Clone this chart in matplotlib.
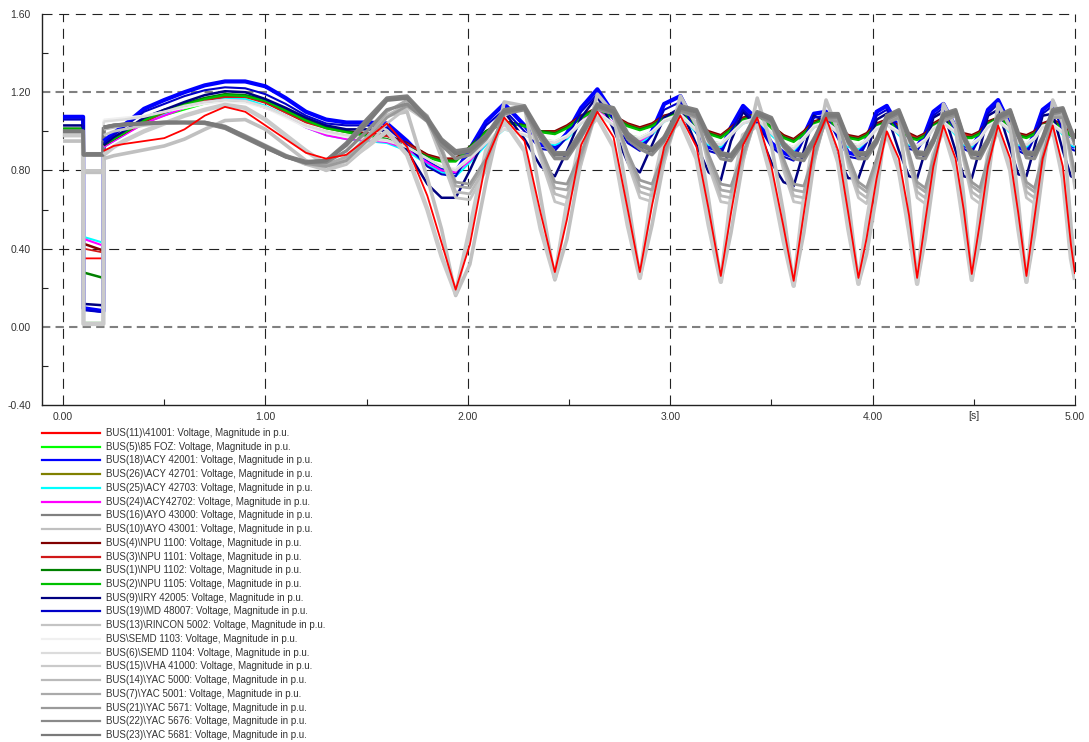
import matplotlib
matplotlib.use('Agg')
import matplotlib.pyplot as plt
from matplotlib.lines import Line2D
from matplotlib.ticker import MultipleLocator

plt.rcParams['font.family'] = ['Liberation Sans', 'DejaVu Sans']

# ---------------------------------------------------------
# Simulation results: bus voltages [p.u.] vs time [s]
# ---------------------------------------------------------
t = [0.00, 0.099, 0.101, 0.199, 0.201, 0.25, 0.30, 0.40, 0.50, 0.60,
     0.70, 0.80, 0.90, 1.00, 1.10, 1.20, 1.30, 1.40, 1.50, 1.60,
     1.70, 1.80, 1.87,
     1.94, 2.01, 2.09, 2.18, 2.28, 2.36,
     2.43, 2.49, 2.56, 2.64, 2.72, 2.79,
     2.85, 2.91, 2.97, 3.05, 3.13, 3.19,
     3.25, 3.30, 3.36, 3.43, 3.50, 3.56,
     3.61, 3.66, 3.71, 3.77, 3.83, 3.88,
     3.93, 3.97, 4.02, 4.07, 4.13, 4.18,
     4.22, 4.26, 4.30, 4.35, 4.41, 4.45,
     4.49, 4.53, 4.57, 4.62, 4.68, 4.72,
     4.76, 4.80, 4.84, 4.89, 4.94, 4.98, 5.00]

v_41001 = [1.00, 1.00, 0.35, 0.35, 0.90, 0.925, 0.935, 0.95, 0.965, 1.01,
           1.08, 1.125, 1.10, 1.03, 0.96, 0.89, 0.86, 0.88, 0.96, 1.04,
           0.92, 0.67, 0.43,
           0.19, 0.42, 0.85, 1.07, 0.95, 0.58,
           0.28, 0.55, 0.93, 1.10, 0.97, 0.60,
           0.28, 0.62, 0.92, 1.08, 0.92, 0.60,
           0.26, 0.58, 0.93, 1.07, 0.82, 0.51,
           0.235, 0.58, 0.92, 1.07, 0.90, 0.58,
           0.25, 0.45, 0.76, 1.00, 0.86, 0.57,
           0.25, 0.54, 0.82, 1.03, 0.86, 0.60,
           0.27, 0.53, 0.82, 1.03, 0.86, 0.58,
           0.26, 0.56, 0.86, 1.03, 0.82, 0.42, 0.27]

v_85foz = [1.01, 1.01, 0.02, 0.015, 0.92, 0.95, 0.98, 1.04, 1.08, 1.11,
           1.14, 1.155, 1.15, 1.12, 1.08, 1.03, 1.00, 0.98, 0.97, 0.95,
           0.91, 0.85, 0.81,
           0.80, 0.87, 0.95, 1.02, 0.99, 0.96,
           0.95, 0.98, 1.05, 1.10, 1.04, 0.98,
           0.97, 1.00, 1.06, 1.09, 1.01, 0.95,
           0.94, 0.99, 1.05, 1.07, 1.00, 0.94,
           0.92, 0.97, 1.03, 1.05, 1.00, 0.94,
           0.93, 0.96, 1.02, 1.04, 1.00, 0.95,
           0.93, 0.96, 1.02, 1.05, 1.00, 0.95,
           0.94, 0.97, 1.03, 1.06, 1.01, 0.95,
           0.94, 0.97, 1.03, 1.04, 1.00, 0.95, 0.94]

v_42001 = [1.074, 1.074, 0.095, 0.08, 0.95, 0.99, 1.03, 1.115, 1.16, 1.20,
           1.235, 1.255, 1.255, 1.23, 1.17, 1.10, 1.06, 1.045, 1.045, 1.04,
           0.95, 0.84, 0.80,
           0.79, 0.91, 1.05, 1.14, 1.03, 0.93,
           0.92, 0.99, 1.12, 1.215, 1.09, 0.96,
           0.92, 1.00, 1.14, 1.18, 1.02, 0.92,
           0.90, 1.02, 1.13, 1.06, 0.94, 0.89,
           0.87, 0.98, 1.09, 1.10, 0.98, 0.89,
           0.88, 0.96, 1.10, 1.13, 1.02, 0.93,
           0.92, 0.99, 1.10, 1.14, 1.02, 0.93,
           0.91, 0.99, 1.11, 1.16, 1.03, 0.92,
           0.90, 0.99, 1.11, 1.15, 1.02, 0.93, 0.92]

v_42701 = [0.99, 0.99, 0.012, 0.01, 0.93, 0.96, 0.99, 1.06, 1.10, 1.14,
           1.17, 1.185, 1.18, 1.15, 1.11, 1.06, 1.03, 1.00, 0.99, 0.98,
           0.94, 0.88, 0.85,
           0.86, 0.92, 0.99, 1.05, 1.03, 1.00,
           0.99, 1.02, 1.07, 1.12, 1.07, 1.03,
           1.01, 1.03, 1.07, 1.10, 1.04, 0.99,
           0.97, 1.01, 1.06, 1.09, 1.03, 0.98,
           0.95, 0.99, 1.04, 1.07, 1.03, 0.97,
           0.96, 0.98, 1.03, 1.05, 1.03, 0.98,
           0.96, 0.98, 1.03, 1.06, 1.03, 0.98,
           0.97, 0.99, 1.04, 1.07, 1.03, 0.98,
           0.97, 0.99, 1.03, 1.05, 1.02, 0.98, 0.97]

v_42703 = [1.00, 1.00, 0.46, 0.43, 0.92, 0.95, 0.98, 1.05, 1.09, 1.13,
           1.16, 1.17, 1.165, 1.13, 1.08, 1.02, 0.98, 0.96, 0.95, 0.94,
           0.90, 0.83, 0.79,
           0.77, 0.84, 0.93, 1.01, 0.98, 0.95,
           0.93, 0.96, 1.04, 1.10, 1.03, 0.96,
           0.94, 0.98, 1.05, 1.08, 0.99, 0.93,
           0.92, 0.98, 1.04, 1.06, 0.98, 0.92,
           0.90, 0.96, 1.02, 1.05, 0.98, 0.92,
           0.91, 0.95, 1.02, 1.05, 0.98, 0.93,
           0.92, 0.95, 1.02, 1.05, 0.98, 0.93,
           0.92, 0.96, 1.03, 1.06, 0.99, 0.93,
           0.92, 0.96, 1.03, 1.05, 0.98, 0.93, 0.92]

v_42702 = [1.00, 1.00, 0.45, 0.415, 0.92, 0.95, 0.98, 1.04, 1.08, 1.12,
           1.15, 1.16, 1.155, 1.12, 1.08, 1.02, 0.98, 0.96, 0.955, 0.945,
           0.91, 0.84, 0.80,
           0.79, 0.85, 0.94, 1.02, 0.99, 0.96,
           0.94, 0.97, 1.05, 1.11, 1.04, 0.97,
           0.95, 0.99, 1.06, 1.09, 1.00, 0.94,
           0.93, 0.99, 1.05, 1.07, 0.99, 0.93,
           0.91, 0.97, 1.03, 1.06, 0.99, 0.93,
           0.92, 0.96, 1.03, 1.06, 0.99, 0.94,
           0.93, 0.96, 1.03, 1.06, 0.99, 0.94,
           0.93, 0.97, 1.04, 1.07, 1.00, 0.94,
           0.93, 0.97, 1.04, 1.06, 0.99, 0.94, 0.93]

v_43000 = [1.00, 1.00, 0.885, 0.885, 1.02, 1.03, 1.035, 1.04, 1.045, 1.045,
           1.045, 1.025, 0.975, 0.925, 0.875, 0.845, 0.85, 0.94, 1.06, 1.17,
           1.18, 1.07, 0.96,
           0.90, 0.91, 0.98, 1.11, 1.13, 0.99,
           0.89, 0.89, 1.00, 1.14, 1.12, 0.99,
           0.94, 0.91, 0.97, 1.13, 1.11, 0.98,
           0.89, 0.88, 0.96, 1.10, 1.07, 0.94,
           0.89, 0.88, 0.96, 1.09, 1.09, 0.96,
           0.89, 0.89, 0.96, 1.08, 1.11, 0.98,
           0.895, 0.89, 0.96, 1.09, 1.11, 0.98,
           0.895, 0.89, 0.96, 1.08, 1.11, 0.99,
           0.895, 0.89, 0.97, 1.11, 1.12, 1.01, 0.96]

v_43001 = [0.95, 0.95, 0.79, 0.79, 0.86, 0.875, 0.885, 0.905, 0.925, 0.96,
           1.01, 1.055, 1.06, 1.01, 0.93, 0.85, 0.80, 0.85, 0.95, 1.08,
           1.10, 0.76, 0.50,
           0.16, 0.32, 0.74, 1.15, 1.13, 0.66,
           0.24, 0.45, 0.85, 1.19, 1.09, 0.66,
           0.25, 0.52, 0.85, 1.18, 1.03, 0.65,
           0.23, 0.48, 0.85, 1.17, 0.93, 0.58,
           0.21, 0.48, 0.84, 1.16, 1.00, 0.65,
           0.22, 0.37, 0.68, 1.08, 1.06, 0.65,
           0.22, 0.45, 0.75, 1.14, 1.02, 0.67,
           0.24, 0.44, 0.75, 1.14, 1.02, 0.64,
           0.23, 0.47, 0.79, 1.16, 1.04, 0.52, 0.30]

v_1100 = [1.00, 1.00, 0.425, 0.39, 0.93, 0.96, 0.99, 1.05, 1.10, 1.13,
          1.16, 1.18, 1.18, 1.15, 1.10, 1.05, 1.02, 1.00, 0.99, 0.98,
          0.94, 0.88, 0.86,
          0.86, 0.92, 1.00, 1.05, 1.03, 1.00,
          1.00, 1.03, 1.08, 1.12, 1.08, 1.04,
          1.02, 1.04, 1.08, 1.10, 1.04, 1.00,
          0.98, 1.02, 1.07, 1.09, 1.03, 0.98,
          0.96, 1.00, 1.05, 1.07, 1.03, 0.98,
          0.97, 0.99, 1.04, 1.06, 1.03, 0.99,
          0.97, 0.99, 1.04, 1.07, 1.03, 0.99,
          0.98, 1.00, 1.05, 1.07, 1.04, 0.99,
          0.98, 1.00, 1.04, 1.06, 1.03, 0.99, 0.98]

v_1101 = [1.00, 1.00, 0.40, 0.38, 0.93, 0.96, 0.99, 1.05, 1.095, 1.13,
          1.16, 1.175, 1.175, 1.145, 1.095, 1.045, 1.015, 0.995, 0.985, 0.975,
          0.935, 0.875, 0.855,
          0.855, 0.915, 0.995, 1.045, 1.025, 0.995,
          0.995, 1.025, 1.075, 1.115, 1.075, 1.035,
          1.015, 1.035, 1.075, 1.095, 1.035, 0.995,
          0.975, 1.015, 1.065, 1.085, 1.025, 0.975,
          0.955, 0.995, 1.045, 1.065, 1.025, 0.975,
          0.965, 0.985, 1.035, 1.055, 1.025, 0.985,
          0.965, 0.985, 1.035, 1.065, 1.025, 0.985,
          0.975, 0.995, 1.045, 1.065, 1.035, 0.985,
          0.975, 0.995, 1.035, 1.055, 1.025, 0.985, 0.975]

v_1102 = [1.014, 1.014, 0.278, 0.25, 0.93, 0.96, 0.99, 1.06, 1.11, 1.14,
          1.17, 1.19, 1.185, 1.16, 1.11, 1.06, 1.02, 1.00, 0.98, 0.96,
          0.92, 0.87, 0.85,
          0.85, 0.92, 1.00, 1.05, 1.03, 1.00,
          0.99, 1.02, 1.07, 1.12, 1.07, 1.03,
          1.01, 1.03, 1.07, 1.10, 1.03, 0.99,
          0.97, 1.01, 1.06, 1.09, 1.02, 0.97,
          0.95, 0.99, 1.04, 1.07, 1.02, 0.97,
          0.96, 0.98, 1.03, 1.05, 1.02, 0.97,
          0.96, 0.98, 1.03, 1.06, 1.02, 0.97,
          0.97, 0.99, 1.04, 1.07, 1.03, 0.98,
          0.97, 0.99, 1.03, 1.05, 1.02, 0.98, 0.97]

v_1105 = [1.01, 1.01, 0.02, 0.02, 0.93, 0.96, 0.99, 1.055, 1.10, 1.135,
          1.165, 1.185, 1.18, 1.155, 1.105, 1.055, 1.015, 0.995, 0.975, 0.955,
          0.915, 0.865, 0.845,
          0.845, 0.915, 0.995, 1.045, 1.025, 0.995,
          0.985, 1.015, 1.065, 1.115, 1.065, 1.025,
          1.005, 1.025, 1.065, 1.095, 1.025, 0.985,
          0.965, 1.005, 1.055, 1.085, 1.015, 0.965,
          0.945, 0.985, 1.035, 1.065, 1.015, 0.965,
          0.955, 0.975, 1.025, 1.045, 1.015, 0.965,
          0.955, 0.975, 1.025, 1.055, 1.015, 0.965,
          0.965, 0.985, 1.035, 1.065, 1.025, 0.975,
          0.965, 0.985, 1.025, 1.045, 1.015, 0.975, 0.965]

v_42005 = [1.03, 1.03, 0.117, 0.11, 0.93, 0.97, 1.00, 1.07, 1.11, 1.15,
           1.185, 1.205, 1.20, 1.165, 1.12, 1.07, 1.03, 1.01, 1.01, 1.00,
           0.90, 0.73, 0.66,
           0.66, 0.80, 0.98, 1.10, 0.96, 0.82,
           0.77, 0.90, 1.07, 1.18, 1.01, 0.84,
           0.79, 0.93, 1.07, 1.12, 0.93, 0.79,
           0.75, 0.95, 1.10, 1.02, 0.84, 0.74,
           0.72, 0.90, 1.08, 1.05, 0.86, 0.76,
           0.76, 0.88, 1.06, 1.09, 0.90, 0.77,
           0.76, 0.90, 1.07, 1.10, 0.90, 0.77,
           0.76, 0.91, 1.08, 1.11, 0.91, 0.78,
           0.77, 0.92, 1.08, 1.09, 0.90, 0.77, 0.76]

v_48007 = [1.06, 1.06, 0.085, 0.075, 0.94, 0.98, 1.02, 1.10, 1.14, 1.18,
           1.21, 1.225, 1.22, 1.19, 1.14, 1.08, 1.04, 1.03, 1.03, 1.02,
           0.93, 0.82, 0.78,
           0.77, 0.89, 1.03, 1.11, 1.00, 0.91,
           0.90, 0.97, 1.10, 1.19, 1.06, 0.94,
           0.90, 0.98, 1.11, 1.15, 0.99, 0.90,
           0.88, 1.00, 1.11, 1.04, 0.92, 0.87,
           0.85, 0.96, 1.07, 1.08, 0.96, 0.87,
           0.86, 0.94, 1.08, 1.11, 1.00, 0.91,
           0.90, 0.97, 1.08, 1.12, 1.00, 0.91,
           0.89, 0.97, 1.09, 1.14, 1.01, 0.90,
           0.88, 0.97, 1.09, 1.13, 1.00, 0.91, 0.90]

v_5002 = [0.99, 0.99, 0.80, 0.80, 0.98, 1.00, 1.01, 1.03, 1.04, 1.045,
          1.04, 1.02, 0.98, 0.93, 0.88, 0.83, 0.80, 0.83, 0.92, 1.04,
          1.12, 1.05, 0.86,
          0.66, 0.65, 0.80, 1.08, 1.13, 0.86,
          0.64, 0.62, 0.83, 1.12, 1.10, 0.84,
          0.66, 0.64, 0.84, 1.12, 1.08, 0.82,
          0.64, 0.63, 0.85, 1.10, 1.05, 0.80,
          0.64, 0.63, 0.84, 1.08, 1.06, 0.82,
          0.66, 0.63, 0.80, 1.05, 1.08, 0.85,
          0.66, 0.63, 0.80, 1.06, 1.09, 0.85,
          0.66, 0.63, 0.80, 1.06, 1.09, 0.85,
          0.66, 0.63, 0.82, 1.08, 1.08, 0.84, 0.70]

v_1103 = [1.00, 1.00, 0.02, 0.02, 1.06, 1.065, 1.07, 1.08, 1.10, 1.12,
          1.14, 1.15, 1.145, 1.12, 1.07, 1.02, 0.99, 0.97, 0.96, 0.95,
          0.92, 0.86, 0.82,
          0.81, 0.87, 0.95, 1.02, 0.99, 0.96,
          0.95, 0.98, 1.05, 1.10, 1.04, 0.98,
          0.97, 1.00, 1.06, 1.09, 1.01, 0.95,
          0.94, 0.99, 1.05, 1.07, 1.00, 0.94,
          0.92, 0.97, 1.03, 1.05, 1.00, 0.94,
          0.93, 0.96, 1.02, 1.04, 1.00, 0.95,
          0.93, 0.96, 1.02, 1.05, 1.00, 0.95,
          0.94, 0.97, 1.03, 1.06, 1.01, 0.95,
          0.94, 0.97, 1.03, 1.04, 1.00, 0.95, 0.94]

v_1104 = [1.00, 1.00, 0.015, 0.015, 1.05, 1.055, 1.06, 1.075, 1.10, 1.13,
          1.15, 1.16, 1.155, 1.125, 1.08, 1.03, 1.00, 0.98, 0.965, 0.955,
          0.92, 0.86, 0.82,
          0.80, 0.86, 0.94, 1.01, 0.98, 0.95,
          0.94, 0.97, 1.04, 1.09, 1.03, 0.97,
          0.96, 0.99, 1.05, 1.08, 1.00, 0.94,
          0.93, 0.98, 1.04, 1.06, 0.99, 0.93,
          0.91, 0.96, 1.02, 1.04, 0.99, 0.93,
          0.92, 0.95, 1.01, 1.03, 0.99, 0.94,
          0.92, 0.95, 1.01, 1.04, 0.99, 0.94,
          0.93, 0.96, 1.02, 1.05, 1.00, 0.94,
          0.93, 0.96, 1.02, 1.03, 0.99, 0.94, 0.93]

v_41000 = [0.98, 0.98, 0.015, 0.015, 0.88, 0.92, 0.95, 1.00, 1.04, 1.08,
           1.11, 1.135, 1.12, 1.06, 0.98, 0.90, 0.83, 0.85, 0.92, 1.00,
           0.88, 0.60, 0.36,
           0.17, 0.50, 0.90, 1.05, 0.90, 0.50,
           0.25, 0.63, 0.98, 1.07, 0.92, 0.52,
           0.25, 0.69, 0.97, 1.05, 0.86, 0.52,
           0.23, 0.66, 0.98, 1.03, 0.76, 0.44,
           0.21, 0.65, 0.96, 1.04, 0.84, 0.50,
           0.22, 0.53, 0.83, 0.99, 0.80, 0.49,
           0.22, 0.61, 0.88, 1.01, 0.80, 0.52,
           0.24, 0.60, 0.88, 1.01, 0.80, 0.50,
           0.23, 0.63, 0.91, 1.01, 0.76, 0.35, 0.24]

v_5000 = [1.00, 1.00, 0.88, 0.88, 1.01, 1.02, 1.03, 1.04, 1.045, 1.045,
          1.04, 1.015, 0.97, 0.92, 0.87, 0.83, 0.82, 0.86, 0.96, 1.08,
          1.14, 1.07, 0.90,
          0.69, 0.68, 0.82, 1.09, 1.13, 0.88,
          0.68, 0.66, 0.85, 1.12, 1.10, 0.86,
          0.69, 0.67, 0.86, 1.11, 1.08, 0.84,
          0.67, 0.66, 0.86, 1.09, 1.05, 0.82,
          0.67, 0.66, 0.85, 1.07, 1.06, 0.84,
          0.69, 0.66, 0.82, 1.05, 1.08, 0.86,
          0.69, 0.66, 0.82, 1.06, 1.09, 0.86,
          0.69, 0.66, 0.82, 1.06, 1.09, 0.86,
          0.69, 0.66, 0.84, 1.08, 1.08, 0.86, 0.74]

v_5001 = [1.00, 1.00, 0.88, 0.88, 1.02, 1.03, 1.035, 1.04, 1.045, 1.045,
          1.045, 1.02, 0.975, 0.925, 0.875, 0.84, 0.83, 0.87, 0.97, 1.10,
          1.16, 1.08, 0.92,
          0.72, 0.71, 0.84, 1.10, 1.13, 0.90,
          0.71, 0.70, 0.87, 1.12, 1.10, 0.88,
          0.72, 0.70, 0.87, 1.11, 1.08, 0.86,
          0.70, 0.69, 0.87, 1.09, 1.05, 0.84,
          0.70, 0.69, 0.86, 1.07, 1.06, 0.85,
          0.72, 0.69, 0.84, 1.05, 1.08, 0.87,
          0.72, 0.69, 0.84, 1.06, 1.09, 0.87,
          0.72, 0.69, 0.84, 1.06, 1.09, 0.87,
          0.72, 0.69, 0.85, 1.08, 1.08, 0.87, 0.76]

v_5671 = [1.00, 1.00, 0.88, 0.88, 1.02, 1.03, 1.035, 1.04, 1.045, 1.045,
          1.045, 1.02, 0.97, 0.92, 0.87, 0.835, 0.82, 0.85, 0.95, 1.07,
          1.13, 1.06, 0.90,
          0.74, 0.73, 0.86, 1.09, 1.12, 0.91,
          0.74, 0.73, 0.89, 1.11, 1.09, 0.89,
          0.75, 0.73, 0.89, 1.10, 1.07, 0.88,
          0.73, 0.72, 0.89, 1.08, 1.04, 0.86,
          0.73, 0.72, 0.88, 1.06, 1.05, 0.87,
          0.74, 0.71, 0.86, 1.04, 1.07, 0.89,
          0.74, 0.71, 0.86, 1.05, 1.08, 0.89,
          0.74, 0.71, 0.86, 1.05, 1.08, 0.89,
          0.74, 0.71, 0.87, 1.07, 1.07, 0.89, 0.78]

v_5676 = [1.00, 1.00, 0.88, 0.88, 1.02, 1.03, 1.035, 1.04, 1.045, 1.045,
          1.04, 1.015, 0.965, 0.915, 0.87, 0.84, 0.84, 0.90, 1.00, 1.11,
          1.14, 1.05, 0.93,
          0.86, 0.88, 0.96, 1.09, 1.11, 0.96,
          0.86, 0.86, 0.97, 1.12, 1.09, 0.96,
          0.91, 0.88, 0.95, 1.11, 1.08, 0.95,
          0.86, 0.85, 0.94, 1.08, 1.05, 0.92,
          0.86, 0.85, 0.94, 1.07, 1.07, 0.94,
          0.86, 0.86, 0.94, 1.06, 1.09, 0.96,
          0.865, 0.86, 0.94, 1.07, 1.09, 0.96,
          0.865, 0.86, 0.94, 1.06, 1.09, 0.97,
          0.865, 0.86, 0.95, 1.09, 1.10, 0.99, 0.93]

v_5681 = [1.00, 1.00, 0.88, 0.88, 1.02, 1.03, 1.035, 1.04, 1.045, 1.045,
          1.045, 1.02, 0.97, 0.92, 0.87, 0.84, 0.85, 0.93, 1.04, 1.16,
          1.17, 1.06, 0.95,
          0.885, 0.90, 0.97, 1.10, 1.12, 0.98,
          0.88, 0.88, 0.98, 1.13, 1.10, 0.97,
          0.93, 0.90, 0.96, 1.12, 1.10, 0.97,
          0.88, 0.87, 0.95, 1.09, 1.06, 0.93,
          0.88, 0.87, 0.95, 1.08, 1.08, 0.95,
          0.88, 0.88, 0.95, 1.07, 1.10, 0.97,
          0.885, 0.88, 0.95, 1.08, 1.10, 0.97,
          0.885, 0.88, 0.95, 1.07, 1.10, 0.98,
          0.885, 0.88, 0.96, 1.10, 1.11, 1.00, 0.95]

bus_names = ['BUS(11)\\41001', 'BUS(5)\\85 FOZ', 'BUS(18)\\ACY 42001', 'BUS(26)\\ACY 42701',
             'BUS(25)\\ACY 42703', 'BUS(24)\\ACY42702', 'BUS(16)\\AYO 43000', 'BUS(10)\\AYO 43001',
             'BUS(4)\\NPU 1100', 'BUS(3)\\NPU 1101', 'BUS(1)\\NPU 1102', 'BUS(2)\\NPU 1105',
             'BUS(9)\\IRY 42005', 'BUS(19)\\MD 48007', 'BUS(13)\\RINCON 5002', 'BUS\\SEMD 1103',
             'BUS(6)\\SEMD 1104', 'BUS(15)\\VHA 41000', 'BUS(14)\\YAC 5000', 'BUS(7)\\YAC 5001',
             'BUS(21)\\YAC 5671', 'BUS(22)\\YAC 5676', 'BUS(23)\\YAC 5681']
bus_values = [v_41001, v_85foz, v_42001, v_42701, v_42703, v_42702, v_43000, v_43001,
              v_1100, v_1101, v_1102, v_1105, v_42005, v_48007, v_5002, v_1103,
              v_1104, v_41000, v_5000, v_5001, v_5671, v_5676, v_5681]

colors = ['#ff0000', '#00ff00', '#0000ff', '#808000', '#00ffff', '#ff00ff', '#808080', '#c0c0c0',
          '#800000', '#d01818', '#008000', '#00c000', '#000080', '#0000c8', '#c4c4c4', '#f0f0f0',
          '#dcdcdc', '#cacaca', '#bababa', '#aaaaaa', '#9a9a9a', '#8a8a8a', '#7a7a7a']
widths = [1.3, 1.0, 3.0, 1.5, 1.5, 1.5, 2.6, 2.6,
          1.8, 1.3, 1.8, 1.5, 1.8, 1.5, 2.0, 1.5,
          1.8, 3.2, 2.0, 2.0, 2.0, 2.4, 2.8]
# stacking after fault clearing: coloured curves below the grey ones, 41001 on top
layers = [6, 1, 1, 1, 1, 1, 5, 3,
          1, 1, 1, 1, 1, 1, 3, 2,
          2, 3, 4, 4, 4, 5, 5]
n_fault = 5  # samples up to and including fault clearing (t = 0.201 s)

y_ticks = [-0.4, 0.0, 0.4, 0.8, 1.2, 1.6]
x_ticks = [0, 1, 2, 3, 4, 5]
ref_levels = [0.0, 1.2]

W, H = 1089, 742
fig = plt.figure(figsize=(W / 100, H / 100), dpi=100)
ax = fig.add_axes([42 / W, 1 - 405 / H, (1075 - 42) / W, (405 - 14) / H])

for i, vals in enumerate(bus_values):
    style = dict(color=colors[i], lw=widths[i], solid_joinstyle='round', solid_capstyle='butt')
    # pre-fault and fault period: plain list order
    ax.plot(t[:n_fault], vals[:n_fault], zorder=2 + 0.01 * i, **style)
    # post-fault swing
    ax.plot(t[n_fault - 1:], vals[n_fault - 1:], zorder=3 + 0.1 * layers[i], **style)

ax.set_xlim(-0.104, 5.0)
ax.set_ylim(-0.4, 1.6)

# dashed grid, reference levels drawn grey and heavier
for x in x_ticks:
    ax.axvline(x, color='#222222', lw=0.8, ls=(0, (9, 6)), zorder=1, clip_on=False)
for y in y_ticks[1:]:
    if y in ref_levels:
        ax.axhline(y, color='#808080', lw=1.5, ls=(0, (4, 2.5)), zorder=1, clip_on=False)
    else:
        ax.axhline(y, color='#222222', lw=0.8, ls=(0, (9, 6)), zorder=1, clip_on=False)

ax.set_xticks(x_ticks)
ax.set_xticklabels([f'{x:.2f}' for x in x_ticks])
ax.set_yticks(y_ticks)
ax.set_yticklabels([f'{y:.2f}' for y in y_ticks])
ax.xaxis.set_minor_locator(MultipleLocator(0.5))
ax.yaxis.set_minor_locator(MultipleLocator(0.2))
ax.tick_params(which='major', length=0, labelsize=7.5, labelcolor='#333333')
ax.tick_params(axis='x', which='major', pad=5)
ax.tick_params(axis='y', which='major', pad=8)
ax.tick_params(which='minor', direction='in', length=4, width=0.8, color='#222222')
ax.annotate('[s]', xy=(4.5, 0), xycoords=('data', 'axes fraction'),
            xytext=(0, -11), textcoords='offset pixels',
            ha='center', va='center', fontsize=7.5, color='#333333')

for side in ['top', 'right']:
    ax.spines[side].set_visible(False)
for side in ['left', 'bottom']:
    ax.spines[side].set_color('#222222')
    ax.spines[side].set_linewidth(1.0)

# legend block below the plot
row0, row_step = 433, 13.73
for i, name in enumerate(bus_names):
    yf = 1 - (row0 + i * row_step) / H
    fig.add_artist(Line2D([42 / W, 100 / W], [yf, yf], color=colors[i], lw=1.6))
    fig.text(106 / W, yf, name + ': Voltage, Magnitude in p.u.', fontsize=7,
             va='center', ha='left', color='#333333')

fig.savefig('out.png', dpi=100, facecolor='white')
